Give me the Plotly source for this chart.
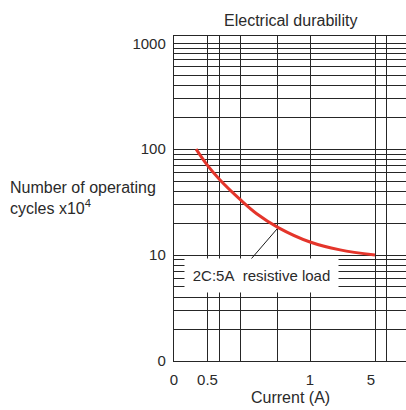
import numpy as np
import plotly.graph_objects as go

# Electrical life curve, 2C:5A resistive load
current_a = [0.33, 0.488, 0.56, 0.66, 0.74, 0.845, 1.0, 2.85, 5.0]
cycles_e4 = [100, 71.9, 51.5, 33.4, 24.6, 18.2, 13.3, 11.2, 10.0]

# Current axis: rule positions (A) and their labels
x_rule_current = [0, 0.5, 0.56, 0.66, 0.84, 1, 5, 6]
x_rule_text = ["0", "0.5", "", "", "", "1", "5\u00a0\u00a0", ""]

# Cycle axis: labelled decades
y_decades = [1, 10, 100, 1000]
y_decade_text = ["0", "10", "100", "1000"]

# Leader from the curve to the load label
leader_current = [0.845, 0.70]
leader_cycles = [18.2, 8.6]

# The printed current scale is stretched piecewise between these breakpoints
SCALE_CURRENT = [0, 0.5, 1, 5, 6]
SCALE_POS = [0, 1, 4.06, 6.0, 6.35]


def to_axis(values):
    return list(np.interp(values, SCALE_CURRENT, SCALE_POS))


INK = "#2a2a2a"
GRID = "#262626"
FAMILY = "Liberation Sans, Arial, sans-serif"
TICK_FONT = dict(family=FAMILY, size=15, color=INK)
TITLE_FONT = dict(family=FAMILY, size=16, color=INK)

# Log rules: every integer multiple inside each decade
y_rules = [m * 10 ** d for d in range(3) for m in range(1, 10)] + [1000]
y_rule_text = [y_decade_text[y_decades.index(v)] if v in y_decades else "" for v in y_rules]

fig = go.Figure()

fig.add_trace(go.Scatter(
    x=to_axis(leader_current), y=leader_cycles, mode="lines",
    line=dict(color="#1a1a1a", width=1), hoverinfo="skip", showlegend=False,
))
fig.add_trace(go.Scatter(
    x=to_axis(current_a), y=cycles_e4, mode="lines",
    line=dict(color="#e4352b", width=3, shape="spline", smoothing=1.0),
    showlegend=False,
))

fig.update_xaxes(
    range=[0, 6.925], tickmode="array",
    tickvals=to_axis(x_rule_current), ticktext=x_rule_text,
    showgrid=True, gridcolor=GRID, gridwidth=1.3,
    showline=True, linecolor=GRID, linewidth=1.4, mirror=True,
    ticks="", ticklabelstandoff=5, zeroline=False,
    tickfont=TICK_FONT,
)
fig.update_yaxes(
    type="log", range=[0, 3.069], tickmode="array",
    tickvals=y_rules, ticktext=y_rule_text,
    showgrid=True, gridcolor=GRID, gridwidth=1.3,
    showline=True, linecolor=GRID, linewidth=1.4,
    ticks="", ticklabelstandoff=4, zeroline=False,
    tickfont=TICK_FONT,
)

fig.add_annotation(
    text="Electrical durability", xref="paper", yref="paper",
    x=0.5, y=1.049, xanchor="center", yanchor="middle",
    showarrow=False, font=TITLE_FONT,
)
fig.add_annotation(
    text="Number of operating<br>cycles x10<sup>4</sup>", xref="paper", yref="paper",
    x=-0.7155, y=0.5015, xanchor="left", yanchor="middle", align="left",
    showarrow=False, font=TITLE_FONT,
)
fig.add_annotation(
    text="Current (A)", xref="paper", yref="paper",
    x=0.503, y=-0.1138, xanchor="center", yanchor="middle",
    showarrow=False, font=TITLE_FONT,
)
fig.add_annotation(
    text="2C:5A\u00a0 resistive load", xref="paper", yref="paper",
    x=0.378, y=0.2646, xanchor="center", yanchor="middle",
    showarrow=False, font=dict(family=FAMILY, size=15, color=INK),
    bgcolor="white", width=153, height=33, borderpad=0,
)

fig.update_layout(
    width=406, height=410,
    margin=dict(l=174, r=0, t=36, b=49),
    paper_bgcolor="white", plot_bgcolor="white",
    showlegend=False,
)

fig.write_html("out.html")
